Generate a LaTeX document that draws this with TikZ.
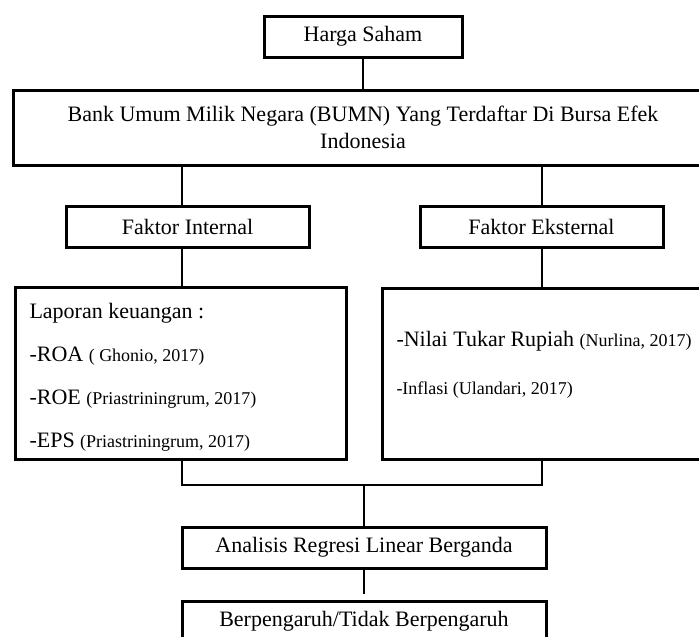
\documentclass[tikz,border=0pt]{standalone}
\usepackage{fontspec}
\setmainfont{Liberation Serif}
\newcommand{\kecil}[1]{{\fontsize{18}{43}\selectfont #1}}
\begin{document}
\begin{tikzpicture}[x=1pt, y=-1pt, font=\fontsize{22}{27}\selectfont, line join=miter,
	kotak/.style={draw, line width=3pt, inner sep=0pt, minimum height=41pt},
	garis/.style={line width=2.2pt}]
	\useasboundingbox (0,0) rectangle (699,637);
	\path 
	(182,0) coordinate (kiri)
	(542,0) coordinate (kanan)
	(0,485) coordinate (gabung)
	;
	\node[kotak, minimum width=198pt] (harga) at (363,36.5) {Harga Saham};
	\node[kotak, minimum width=700pt, minimum height=75pt, align=center] (bumn) at (363,127.5)
		{Bank Umum Milik Negara (BUMN) Yang Terdaftar Di Bursa Efek\\Indonesia};
	\node[kotak, minimum width=243pt] (internal) at (187.5,226.5) {Faktor Internal};
	\node[kotak, minimum width=243pt] (eksternal) at (541.5,226.5) {Faktor Eksternal};
	\node[kotak, anchor=north west, inner xsep=14pt, text width=303pt, minimum height=172pt,
		align=flush left, font=\fontsize{22}{43}\selectfont] (laporan) at (14,286)
		{\rule{0pt}{22pt}Laporan keuangan :\\
		-ROA \kecil{( Ghonio, 2017)}\\
		-ROE \kecil{(Priastriningrum, 2017)}\\
		-EPS \kecil{(Priastriningrum, 2017)}};
	\node[kotak, anchor=north west, inner xsep=14pt, text width=312pt, minimum height=171pt,
		align=flush left, font=\fontsize{22}{48}\selectfont] (variabel) at (381,287)
		{-Nilai Tukar Rupiah \kecil{(Nurlina, 2017)}\\
		\kecil{-Inflasi (Ulandari, 2017)}\rule[-22pt]{0pt}{22pt}};
	\node[kotak, minimum width=364pt] (analisis) at (364,547.5) {Analisis Regresi Linear Berganda};
	\node[kotak, minimum width=364pt] (hasil) at (364,621.5) {Berpengaruh/Tidak Berpengaruh};
	% garis penghubung
	\draw[garis] (harga) -- (bumn);
	\foreach \a/\b/\x in {bumn/internal/kiri, bumn/eksternal/kanan, internal/laporan/kiri, eksternal/variabel/kanan}
		\draw[garis] (\a.south -| \x) -- (\b.north -| \x);
	\draw[garis] (laporan.south -| kiri) -- (gabung -| kiri) -- (gabung -| kanan) -- (variabel.south -| kanan);
	\draw[garis] (gabung -| analisis) -- (analisis.north);
	\draw[garis, shorten >=6pt] (analisis) -- (hasil);
\end{tikzpicture}
\end{document}
